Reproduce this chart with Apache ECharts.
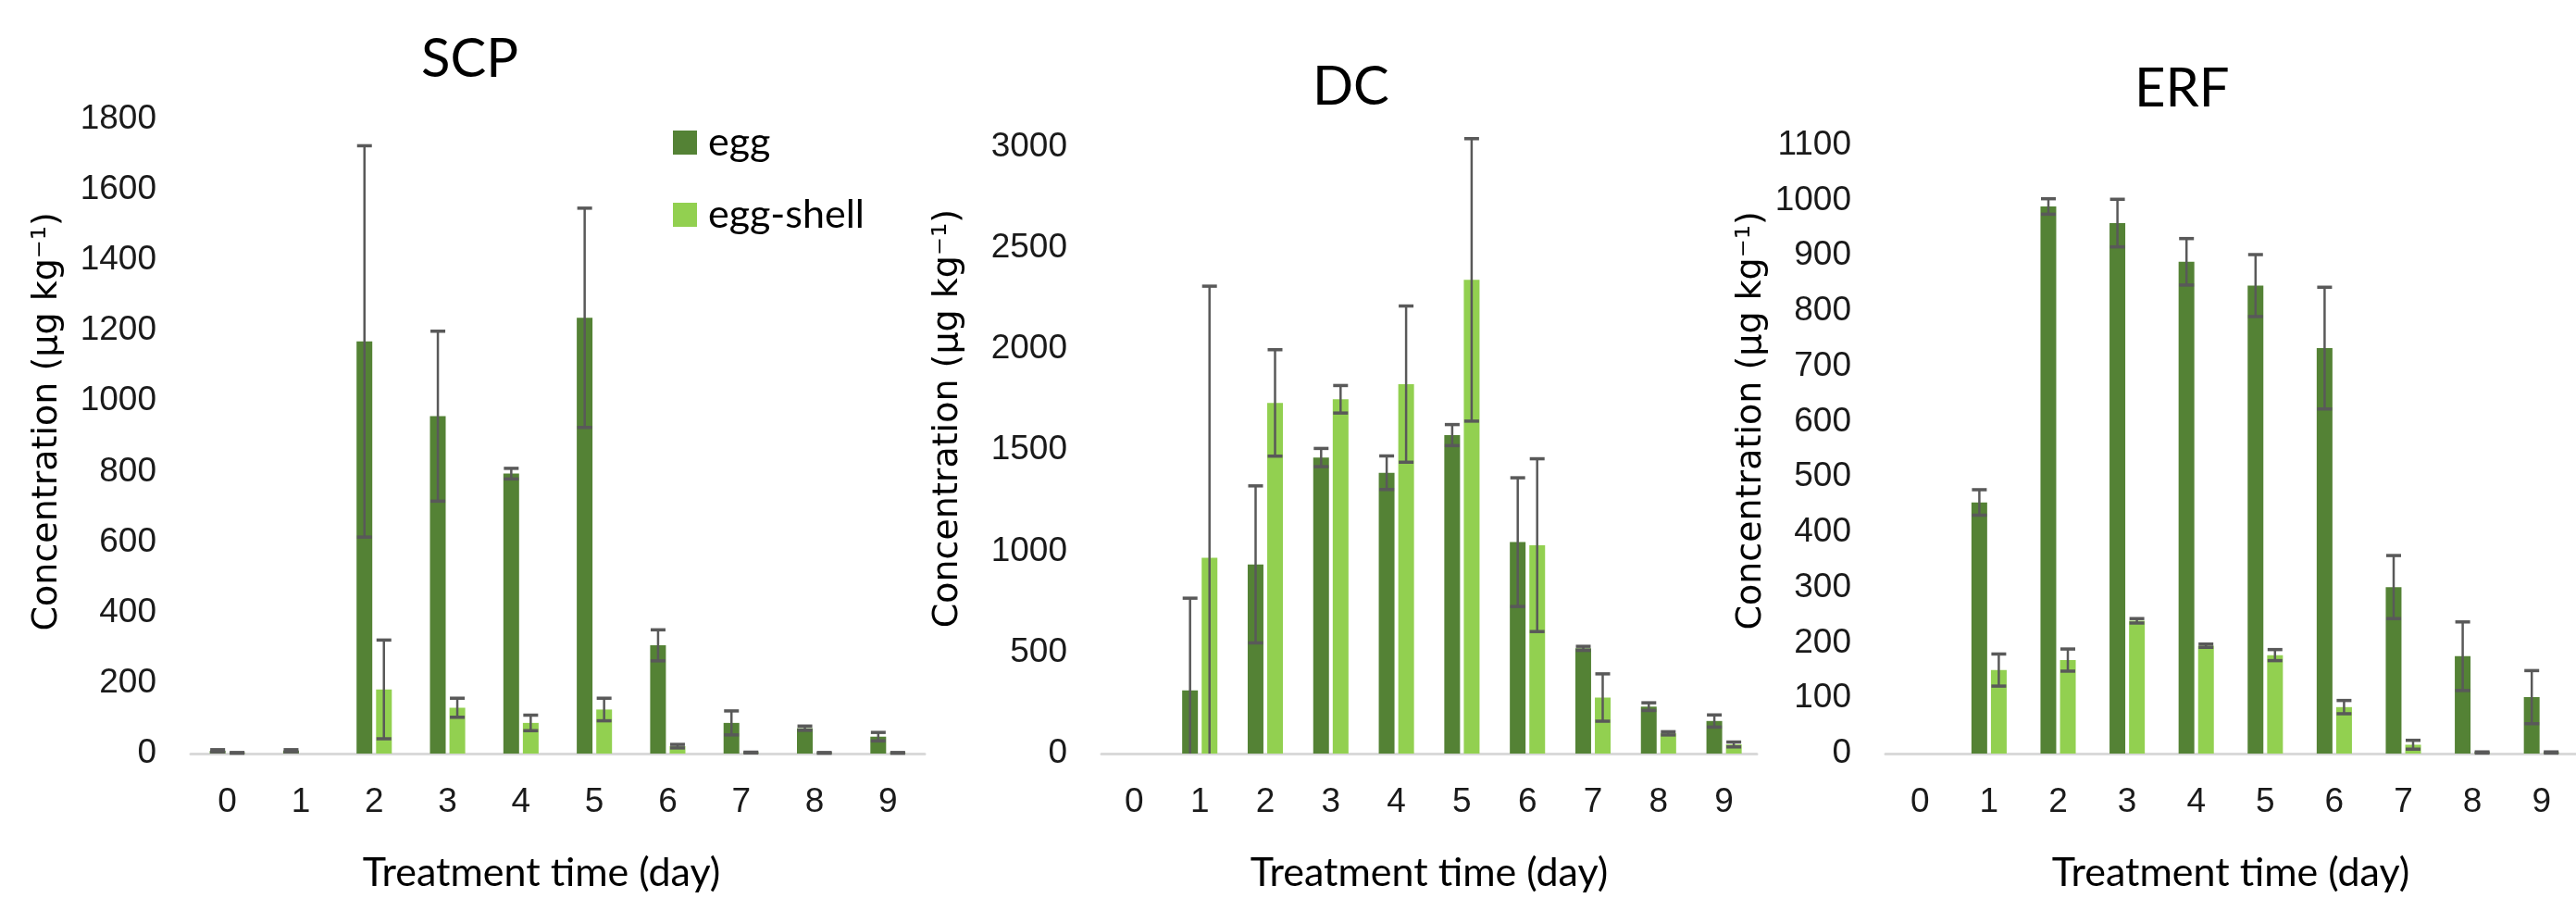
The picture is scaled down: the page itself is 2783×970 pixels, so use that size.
<!DOCTYPE html>
<html>
<head>
<meta charset="utf-8">
<script src="https://cdn.jsdelivr.net/npm/echarts@6/dist/echarts.min.js"></script>
<style>
  html, body { margin: 0; padding: 0; background: #fff; }
  #chart { width: 2783px; height: 970px; }
</style>
</head>
<body>
<div id="chart"></div>
<script>
// treatment days
const days = ['0', '1', '2', '3', '4', '5', '6', '7', '8', '9']
const seriesNames = ['egg', 'egg-shell']
const panelTitles = ['SCP', 'DC', 'ERF']

// SCP (µg/kg), mean and error
const scpEgg = [8, 8, 1169, 957, 794, 1236, 307, 87, 72, 48]
const scpEggErr = [3, 3, 555, 241, 15, 311, 44, 34, 6, 12]
const scpShell = [2, 0, 182, 130, 87, 125, 21, 3, 2, 2]
const scpShellErr = [1, 0, 140, 27, 22, 32, 5, 1, 1, 1]

// DC
const dcEgg = [0, 312, 935, 1463, 1388, 1574, 1045, 520, 232, 161]
const dcEggErr = [0, 456, 388, 45, 83, 52, 318, 10, 19, 30]
const dcShell = [0, 968, 1733, 1751, 1826, 2341, 1030, 277, 100, 45]
const dcShellErr = [0, 1342, 263, 68, 386, 698, 427, 117, 8, 12]

// ERF
const erfEgg = [0, 454, 989, 959, 889, 846, 733, 301, 176, 102]
const erfEggErr = [0, 23, 14, 43, 42, 56, 110, 57, 62, 48]
const erfShell = [0, 151, 169, 240, 195, 178, 84, 16, 2, 2]
const erfShellErr = [0, 29, 20, 4, 3, 10, 12, 8, 1, 1]

// y axis ranges
const yMax = [1800, 3000, 1100]
const yStep = [200, 500, 100]

const colorEgg = '#548235'
const colorShell = '#92d050'
const errColor = '#595959'
const tickFont = "'Liberation Sans', sans-serif"
const textFont = 'Lato, sans-serif'

const BAR_W = 17
const BAR_OFF = 10.5

const panelData = [
  [scpEgg, scpEggErr, scpShell, scpShellErr],
  [dcEgg, dcEggErr, dcShell, dcShellErr],
  [erfEgg, erfEggErr, erfShell, erfShellErr],
]

// grid boxes in px
const grids = [
  { left: 206, top: 128.5, width: 793, height: 699.5 },
  { left: 1190, top: 158.3, width: 708, height: 662.2 },
  { left: 2037, top: 156.7, width: 761, height: 668.3 },
]
const titleLeft = [455, 1418, 2306]
const titleTop = [35, 65, 67]
const yNameGap = [136, 147, 126]
const yNameShift = [32, 68, 62]
const xNamePad = [[0, 35, 0, 0], [0, 0, 0, 0], [0, 0, 0, 0]]

function errorBars(idx, vals, errs, offset) {
  return {
    type: 'custom',
    name: 'err',
    xAxisIndex: idx,
    yAxisIndex: idx,
    z: 10,
    silent: true,
    data: vals.map((v, i) => [i, Math.max(0, v - errs[i]), v + errs[i], v]),
    renderItem(params, api) {
      if (api.value(2) <= 0) return null
      const lo = api.coord([api.value(0), api.value(1)])
      const hi = api.coord([api.value(0), api.value(2)])
      const x = lo[0] + offset
      const stem = { stroke: errColor, lineWidth: 2.5 }
      const cap = { stroke: errColor, lineWidth: 3.5 }
      const children = [
        { type: 'line', shape: { x1: x, y1: hi[1], x2: x, y2: lo[1] }, style: stem },
        { type: 'line', shape: { x1: x - 8, y1: hi[1], x2: x + 8, y2: hi[1] }, style: cap },
      ]
      if (api.value(1) > 0) {
        children.push({ type: 'line', shape: { x1: x - 8, y1: lo[1], x2: x + 8, y2: lo[1] }, style: cap })
      }
      return { type: 'group', children }
    },
  }
}

const chart = echarts.init(document.getElementById('chart'))

const series = []
panelData.forEach((d, i) => {
  series.push({
    name: 'egg', type: 'bar', xAxisIndex: i, yAxisIndex: i,
    data: d[0], barWidth: BAR_W, barGap: '24%',
    itemStyle: { color: colorEgg },
  })
  series.push({
    name: 'egg-shell', type: 'bar', xAxisIndex: i, yAxisIndex: i,
    data: d[2], barWidth: BAR_W, barGap: '24%',
    itemStyle: { color: colorShell },
  })
  series.push(errorBars(i, d[0], d[1], -BAR_OFF))
  series.push(errorBars(i, d[2], d[3], BAR_OFF))
})

const option = {
  animation: false,
  backgroundColor: '#fff',
  title: panelTitles.map((t, i) => ({
    text: t,
    left: titleLeft[i],
    top: titleTop[i],
    padding: 0,
    textStyle: { fontFamily: textFont, fontSize: 58, fontWeight: 'normal', color: '#000' },
  })),
  legend: {
    data: seriesNames,
    orient: 'vertical',
    left: 727,
    top: 132,
    padding: 0,
    icon: 'rect',
    itemWidth: 26,
    itemHeight: 26,
    itemGap: 34,
    textStyle: { fontFamily: textFont, fontSize: 43, color: '#000', lineHeight: 44, padding: [0, 0, 0, 7] },
  },
  grid: grids,
  xAxis: grids.map((g, i) => ({
    type: 'category',
    gridIndex: i,
    data: days,
    name: 'Treatment time (day)',
    nameLocation: 'middle',
    nameGap: 108,
    nameTextStyle: { fontFamily: textFont, fontSize: 43, color: '#000', padding: xNamePad[i] },
    axisTick: { show: false },
    axisLine: { lineStyle: { color: '#d9d9d9', width: 3 } },
    axisLabel: { fontFamily: tickFont, fontSize: 37, color: '#1a1a1a', margin: 34 },
  })),
  yAxis: grids.map((g, i) => ({
    type: 'value',
    gridIndex: i,
    min: 0,
    max: yMax[i],
    interval: yStep[i],
    name: 'Concentration (μg kg⁻¹)',
    nameLocation: 'middle',
    nameGap: yNameGap[i],
    nameTextStyle: {
      fontFamily: "'DejaVu Sans', sans-serif", fontSize: 38, color: '#000',
      padding: [0, 0, 0, yNameShift[i]],
    },
    axisLine: { show: false },
    axisTick: { show: false },
    splitLine: { show: false },
    axisLabel: {
      fontFamily: tickFont, fontSize: 37, color: '#1a1a1a', margin: 37,
      formatter: (v) => String(v),
    },
  })),
  series,
}

chart.setOption(option)
</script>
</body>
</html>
